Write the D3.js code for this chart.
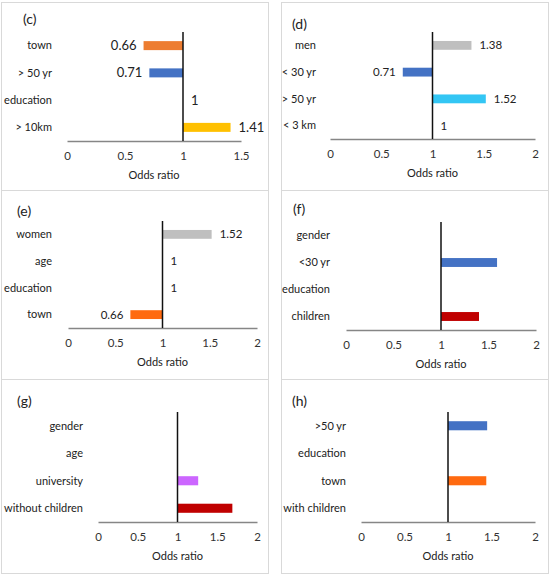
<!DOCTYPE html>
<html>
<head>
<meta charset="utf-8">
<script src="https://cdn.jsdelivr.net/npm/d3@7"></script>
<style>
  body { margin: 0; background: #fff; }
  svg { display: block; font-family: Lato, "Open Sans", sans-serif; }
</style>
</head>
<body>
<svg id="chart" width="550" height="576"></svg>
<script>
// panel (c)
const cCats = ["town", "> 50 yr", "education", "> 10km"];
const cVals = [0.66, 0.71, 1, 1.41];
const cColors = ["#ED7D31", "#4472C4", "#FFFFFF", "#FFC000"];
const cTicks = [0, 0.5, 1, 1.5];

// panel (d)
const dCats = ["men", "< 30 yr", "> 50 yr", "< 3 km"];
const dVals = [1.38, 0.71, 1.52, 1];
const dColors = ["#BFBFBF", "#4472C4", "#33C6F4", "#FFFFFF"];

// panel (e)
const eCats = ["women", "age", "education", "town"];
const eVals = [1.52, 1, 1, 0.66];
const eColors = ["#BFBFBF", "#FFFFFF", "#FFFFFF", "#FF6A10"];

// panel (f)
const fCats = ["gender", "<30 yr", "education", "children"];
const fVals = [1, 1.59, 1, 1.40];
const fColors = ["#FFFFFF", "#4472C4", "#FFFFFF", "#C00000"];

// panel (g)
const gCats = ["gender", "age", "university", "without children"];
const gVals = [1, 1, 1.26, 1.69];
const gColors = ["#FFFFFF", "#FFFFFF", "#CC66FF", "#C00000"];

// panel (h)
const hCats = [">50 yr", "education", "town", "with children"];
const hVals = [1.45, 1, 1.44, 1];
const hColors = ["#4472C4", "#FFFFFF", "#FF6A10", "#FFFFFF"];

const ticks2 = [0, 0.5, 1, 1.5, 2];

const svg = d3.select("#chart");

// panel frames
const frames = [
  [1.5, 2.5, 267, 188], [281.5, 2.5, 267, 188],
  [1.5, 190.5, 267, 189], [281.5, 190.5, 267, 189],
  [1.5, 379.5, 267, 194], [281.5, 379.5, 267, 194]
];
svg.selectAll("rect.frame").data(frames).enter().append("rect")
  .attr("class", "frame")
  .attr("x", d => d[0]).attr("y", d => d[1])
  .attr("width", d => d[2]).attr("height", d => d[3])
  .attr("fill", "none").attr("stroke", "#D9D9D9");

function panel(o) {
  const g = svg.append("g");

  const x = d3.scaleLinear()
    .domain([0, d3.max(o.ticks)])
    .range([o.x0, o.x1]);

  const y = d3.scaleBand()
    .domain(o.cats)
    .range([o.top, o.axisY])
    .paddingInner(0.67)
    .paddingOuter(0.335);

  // panel letter
  g.append("text")
    .attr("x", o.tx).attr("y", o.ty)
    .attr("dy", "0.35em")
    .attr("font-size", 14)
    .attr("fill", "#222")
    .text(o.title);

  // x axis
  const ax = g.append("g")
    .attr("transform", `translate(0,${o.axisY})`)
    .call(d3.axisBottom(x).tickValues(o.ticks).tickSize(0).tickPadding(11)
      .tickFormat(d3.format("")));
  ax.select(".domain").attr("stroke", "#868686").attr("stroke-width", 1.5);
  ax.selectAll("text").attr("font-size", 11.5).attr("fill", "#333")
    .attr("font-family", "Lato, sans-serif");

  // bars
  g.selectAll("rect.bar").data(o.vals).enter().append("rect")
    .attr("class", "bar")
    .attr("x", d => x(Math.min(1, d)))
    .attr("y", (d, i) => y(o.cats[i]))
    .attr("width", d => Math.abs(x(d) - x(1)))
    .attr("height", y.bandwidth())
    .attr("fill", (d, i) => o.colors[i]);

  // reference line at 1
  g.append("line")
    .attr("x1", x(1)).attr("x2", x(1))
    .attr("y1", o.top).attr("y2", o.axisY)
    .attr("stroke", "#111").attr("stroke-width", 1.5);

  // category labels
  g.selectAll("text.cat").data(o.cats).enter().append("text")
    .attr("class", "cat")
    .attr("x", o.labelX)
    .attr("y", d => y(d) + y.bandwidth() / 2)
    .attr("dy", "0.35em")
    .attr("text-anchor", "end")
    .attr("font-size", 11)
    .attr("fill", "#222")
    .text(d => d);

  // value labels
  if (o.showVals) {
    g.selectAll("text.val").data(o.vals).enter().append("text")
      .attr("class", "val")
      .attr("x", d => d < 1 ? x(d) - 7 : x(d) + 8)
      .attr("y", (d, i) => y(o.cats[i]) + y.bandwidth() / 2)
      .attr("dy", "0.35em")
      .attr("text-anchor", d => d < 1 ? "end" : "start")
      .attr("font-size", o.valSize)
      .attr("fill", "#222")
      .text(d => d);
  }

  // axis title
  g.append("text")
    .attr("x", (o.x0 + o.x1) / 2)
    .attr("y", o.axisY + 34)
    .attr("dy", "0.35em")
    .attr("text-anchor", "middle")
    .attr("font-size", 11)
    .attr("fill", "#222")
    .text("Odds ratio");
}

panel({ title: "(c)", tx: 23, ty: 19, cats: cCats, vals: cVals, colors: cColors, ticks: cTicks,
  x0: 67, x1: 241, top: 32, axisY: 141, labelX: 52, showVals: true, valSize: 13 });
panel({ title: "(d)", tx: 292, ty: 24, cats: dCats, vals: dVals, colors: dColors, ticks: ticks2,
  x0: 330, x1: 535, top: 32, axisY: 139, labelX: 316, showVals: true, valSize: 11.5 });
panel({ title: "(e)", tx: 17, ty: 211, cats: eCats, vals: eVals, colors: eColors, ticks: ticks2,
  x0: 68, x1: 257, top: 221, axisY: 328, labelX: 52, showVals: true, valSize: 11.5 });
panel({ title: "(f)", tx: 293, ty: 209, cats: fCats, vals: fVals, colors: fColors, ticks: ticks2,
  x0: 346, x1: 536, top: 222, axisY: 330, labelX: 330, showVals: false });
panel({ title: "(g)", tx: 17, ty: 401, cats: gCats, vals: gVals, colors: gColors, ticks: ticks2,
  x0: 98, x1: 257, top: 412, axisY: 522, labelX: 83, showVals: false });
panel({ title: "(h)", tx: 292, ty: 401, cats: hCats, vals: hVals, colors: hColors, ticks: ticks2,
  x0: 361, x1: 535, top: 412, axisY: 522, labelX: 346, showVals: false });
</script>
</body>
</html>
